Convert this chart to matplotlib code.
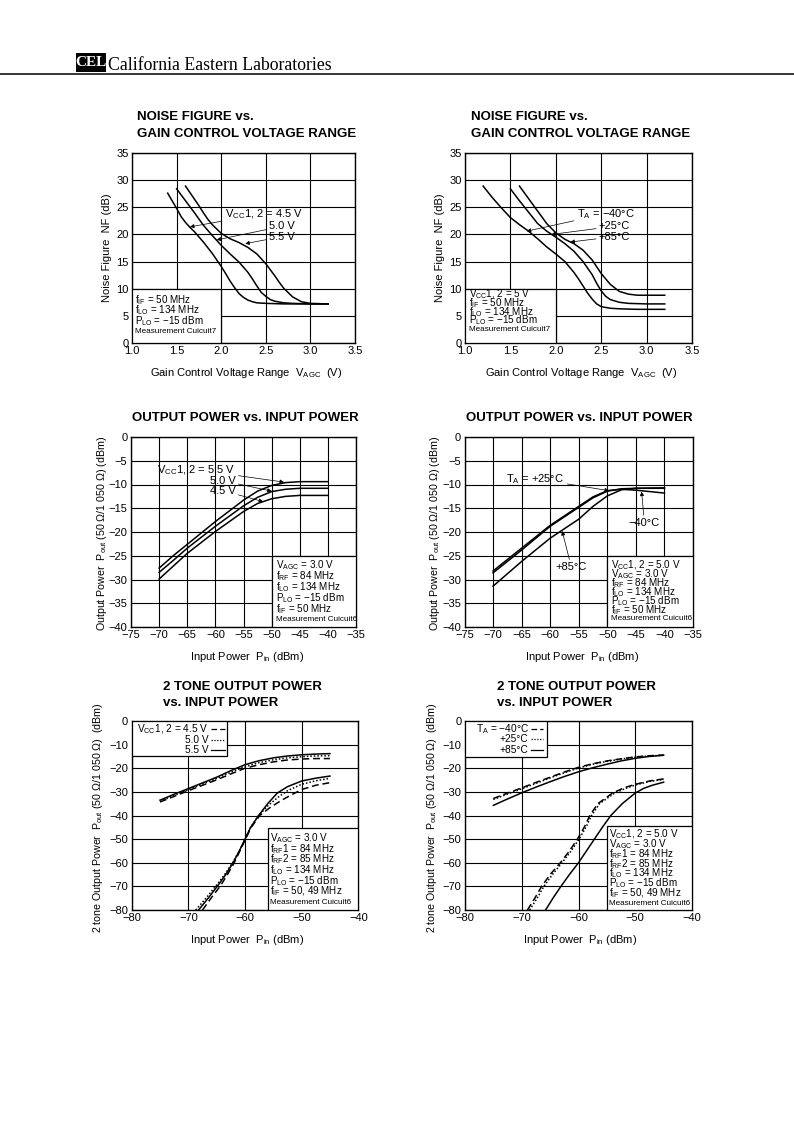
import matplotlib
matplotlib.use("Agg")
import matplotlib.pyplot as plt
from matplotlib.lines import Line2D
from matplotlib.patches import Rectangle
from matplotlib.transforms import offset_copy

W, H = 794, 1123

SANS = "Liberation Sans"
plt.rcParams["font.family"] = [SANS, "DejaVu Sans"]
plt.rcParams["mathtext.fontset"] = "custom"
plt.rcParams["mathtext.rm"] = SANS
plt.rcParams["mathtext.it"] = SANS

# ---- noise figure vs V_AGC, supply voltage ----
nf_v45_x = [1.40, 1.45, 1.50, 1.55, 1.60, 1.65, 1.70, 1.80, 1.90, 2.00, 2.05, 2.10, 2.15,
            2.20, 2.25, 2.30, 2.35, 2.40, 2.50, 2.70, 3.00, 3.20]
nf_v45_y = [27.6, 26.2, 24.8, 23.3, 22.2, 21.3, 20.5, 18.6, 16.5, 14.1, 12.8, 11.4, 10.2,
            9.1, 8.4, 7.9, 7.6, 7.4, 7.3, 7.2, 7.2, 7.2]
nf_v50_x = [1.50, 1.55, 1.60, 1.65, 1.70, 1.80, 1.90, 2.00, 2.10, 2.20, 2.30, 2.35, 2.40,
            2.45, 2.50, 2.55, 2.60, 2.70, 2.80, 3.00, 3.20]
nf_v50_y = [28.4, 27.3, 26.2, 25.1, 24.0, 21.7, 19.8, 18.0, 16.4, 14.9, 13.0, 11.8, 10.5,
            9.3, 8.6, 8.0, 7.7, 7.4, 7.3, 7.2, 7.2]
nf_v55_x = [1.60, 1.65, 1.70, 1.75, 1.80, 1.85, 1.90, 2.00, 2.10, 2.20, 2.30, 2.40, 2.50,
            2.55, 2.60, 2.65, 2.70, 2.80, 2.90, 3.00, 3.20]
nf_v55_y = [28.9, 27.7, 26.5, 25.3, 24.0, 22.8, 21.8, 20.2, 19.2, 18.5, 17.6, 16.4, 14.6,
            13.5, 12.4, 11.2, 10.1, 8.5, 7.6, 7.3, 7.2]

# ---- noise figure vs V_AGC, temperature ----
nf_tm40_x = [1.20, 1.30, 1.40, 1.50, 1.60, 1.70, 1.80, 1.90, 2.00, 2.10, 2.20, 2.25, 2.30,
             2.35, 2.40, 2.45, 2.50, 2.60, 2.70, 2.90, 3.20]
nf_tm40_y = [28.9, 26.8, 24.9, 23.1, 21.8, 20.6, 19.2, 17.7, 16.4, 15.0, 13.0, 11.8, 10.5,
             9.2, 8.1, 7.2, 6.7, 6.4, 6.3, 6.2, 6.2]
nf_t25_x = [1.50, 1.60, 1.70, 1.80, 1.90, 2.00, 2.10, 2.20, 2.30, 2.40, 2.45, 2.50, 2.55,
            2.60, 2.70, 2.80, 3.00, 3.20]
nf_t25_y = [28.4, 26.2, 24.1, 22.0, 20.6, 19.5, 18.3, 16.9, 15.0, 12.6, 11.0, 9.6, 8.6,
            8.0, 7.5, 7.3, 7.2, 7.2]
nf_t85_x = [1.60, 1.70, 1.80, 1.90, 2.00, 2.10, 2.20, 2.30, 2.40, 2.50, 2.60, 2.70, 2.80,
            2.90, 3.00, 3.20]
nf_t85_y = [28.9, 26.6, 24.3, 22.0, 20.3, 19.1, 18.3, 17.1, 15.3, 12.8, 10.8, 9.5, 9.0,
            8.8, 8.8, 8.8]

# ---- output power vs input power ----
pin_x = [-70, -67.5, -65, -60, -55, -52.5, -50, -47.5, -45, -40]
pout_v55 = [-27.6, -25.0, -22.6, -17.8, -13.3, -11.4, -10.2, -9.6, -9.4, -9.4]
pout_v50 = [-28.5, -26.0, -23.4, -18.8, -14.5, -12.7, -11.5, -11.0, -10.8, -10.8]
pout_v45 = [-29.9, -27.2, -24.5, -19.9, -15.7, -14.0, -13.0, -12.5, -12.3, -12.3]
pout_tm40 = [-28.2, -25.8, -23.4, -18.6, -14.6, -12.6, -11.3, -11.0, -11.2, -11.8]
pout_t25 = [-28.6, -26.2, -23.8, -18.8, -14.8, -12.8, -11.4, -10.9, -10.8, -10.7]
pout_t85 = [-31.4, -28.8, -26.2, -21.3, -17.3, -14.6, -12.4, -11.1, -10.8, -10.8]

# ---- 2 tone output power, fundamental (upper curves) ----
fund_x = [-75, -72.5, -70, -67.5, -65, -62.5, -60, -57.5, -55, -52.5, -50, -47.5, -45]
fund_v55 = [-33.5, -31.0, -28.6, -26.2, -23.8, -21.0, -18.5, -16.8, -15.6, -14.8, -14.3, -14.0, -13.8]
fund_v50 = [-34.0, -31.5, -29.0, -26.7, -24.3, -21.7, -19.3, -17.6, -16.4, -15.6, -15.1, -14.8, -14.7]
fund_v45 = [-34.3, -31.9, -29.5, -27.2, -24.9, -22.4, -20.0, -18.5, -17.3, -16.5, -16.1, -15.9, -15.9]
fund_tm40 = [-32.8, -30.5, -28.3, -26.0, -23.8, -21.6, -19.6, -18.1, -16.9, -16.0, -15.2, -14.7, -14.4]
fund_t25 = [-33.2, -30.9, -28.7, -26.4, -24.1, -21.9, -19.9, -18.3, -17.1, -16.1, -15.3, -14.8, -14.5]
fund_t85 = [-35.7, -33.0, -30.4, -28.0, -25.7, -23.5, -21.5, -19.8, -18.3, -16.9, -15.8, -15.0, -14.5]

# ---- 2 tone output power, third-order products (lower curves) ----
im3_v55_x = [-68.2, -66.5, -64.9, -63.4, -62.1, -61.0, -60.0, -59.0, -57.6, -56.0, -54.3, -52.5, -50, -47.5, -45]
im3_v55_y = [-80, -75, -70, -65, -60, -55, -50, -45, -40, -35, -30.5, -27.8, -25.4, -24.2, -23.3]
im3_v50_x = [-68.7, -66.9, -65.2, -63.6, -62.2, -61.0, -60.0, -59.0, -57.6, -55.8, -54.0, -52.5, -50, -47.5, -45]
im3_v50_y = [-80, -75, -70, -65, -60, -55, -50, -45, -40, -35.5, -32.0, -29.5, -26.8, -25.3, -24.3]
im3_v45_x = [-67.5, -66.0, -64.4, -63.1, -61.9, -60.9, -59.9, -58.9, -57.4, -55.5, -53.5, -52.0, -50, -47.5, -45]
im3_v45_y = [-80, -75, -70, -65, -60, -55, -50, -45, -40, -36.5, -33.5, -31.5, -29.0, -27.2, -26.1]
im3_tm40_x = [-69.0, -67.7, -66.5, -65.0, -63.2, -61.6, -60.2, -59.0, -58.0, -56.6, -54.0, -52.0, -50, -47.5, -45]
im3_tm40_y = [-80, -75, -70, -65, -60, -55, -50, -45, -40, -35, -30.5, -28.3, -26.8, -25.4, -24.5]
im3_t25_x = [-68.6, -67.3, -66.1, -64.6, -62.9, -61.3, -59.9, -58.7, -57.7, -56.3, -53.8, -51.8, -50, -47.5, -45]
im3_t25_y = [-80, -75, -70, -65, -60, -55, -50, -45, -40, -35, -30.8, -28.6, -27.1, -25.6, -24.7]
im3_t85_x = [-65.8, -64.5, -63.1, -61.6, -60.0, -58.6, -57.2, -55.8, -54.3, -52.3, -50.0, -48.5, -47, -45]
im3_t85_y = [-80, -75, -70, -65, -60, -55, -50, -45, -40, -35, -30.5, -28.5, -27.2, -25.9]

DASH = (0, (4.5, 2.5))
DOT = (0, (1.0, 1.3))
LW = 1.1

fig = plt.figure(figsize=(W / 100, H / 100), dpi=100)
fig.patch.set_facecolor("white")


def fx(px):
    return px / W


def fy(py):
    return 1 - py / H


def make_axes(left, right, top, bottom):
    ax = fig.add_axes([fx(left), fy(bottom), (right - left) / W, (bottom - top) / H])
    ax.grid(True, color="black", lw=0.8)
    ax.tick_params(length=0, pad=2.5, labelsize=8)
    for s in ax.spines.values():
        s.set_linewidth(1.0)
    return ax


def info_box(ax, x0, y0, x1, y1, tx, ty, lines, step_px):
    ax.add_patch(Rectangle((x0, y0), x1 - x0, y1 - y0, fc="white", ec="black", lw=0.9, zorder=3))
    for i, s in enumerate(lines):
        tr = offset_copy(ax.transData, fig=fig, x=0, y=-i * step_px * 0.72, units="points")
        fs = 5.9 if s.startswith("Measurement") else 7.1
        ax.text(tx, ty, s, transform=tr, ha="left", va="center", fontsize=fs, zorder=5)


def label(ax, s, xy, xytext, ha):
    ax.annotate(s, xy=xy, xytext=xytext, ha=ha, va="center", fontsize=8, zorder=6,
                arrowprops=dict(arrowstyle="-|>", color="black", lw=0.5,
                                mutation_scale=6, shrinkA=0, shrinkB=0))


def legend_box(ax, x0, y0, x1, tx, sx0, sx1, ys, entries):
    ax.add_patch(Rectangle((x0, y0), x1 - x0, 0 - y0, fc="white", ec="black", lw=0.9, zorder=3))
    for y, (s, ls) in zip(ys, entries):
        ax.text(tx, y, s, ha="right", va="center", fontsize=7.3, zorder=5)
        ax.add_line(Line2D([sx0, sx1], [y, y], color="black", lw=0.9, ls=ls, zorder=5))


# ---------------- header ----------------
fig.add_artist(Rectangle((fx(76), fy(72)), 30 / W, 19 / H, transform=fig.transFigure,
                         fc="black", ec="none"))
fig.text(fx(91), fy(62.5), "CEL", color="white", ha="center", va="center",
         family="Liberation Serif", fontsize=11, fontweight="bold")
fig.text(fx(108), fy(69.5), "California Eastern Laboratories", ha="left", va="baseline",
         family="Liberation Serif", fontsize=12.8)
fig.add_artist(Line2D([0, 1], [fy(73.5), fy(73.5)], transform=fig.transFigure,
                      color="black", lw=1.1))

TITLE = dict(fontsize=9.5, fontweight="bold", va="center")

# ---------------- noise figure panels ----------------
nf_panels = [
    (132, 355, 137, [(nf_v45_x, nf_v45_y), (nf_v50_x, nf_v50_y), (nf_v55_x, nf_v55_y)]),
    (465, 692, 471, [(nf_tm40_x, nf_tm40_y), (nf_t25_x, nf_t25_y), (nf_t85_x, nf_t85_y)]),
]
nf_axes = []
for left, right, tleft, curves in nf_panels:
    ax = make_axes(left, right, 153, 343)
    ax.set_xlim(1.0, 3.5)
    ax.set_ylim(0, 35)
    ax.set_xticks([1.0, 1.5, 2.0, 2.5, 3.0, 3.5])
    ax.set_yticks(range(0, 36, 5))
    for xs, ys in curves:
        ax.plot(xs, ys, color="black", lw=LW, zorder=4)
    ax.set_xlabel("Gain Control Voltage Range  V$_{\\rm AGC}$  (V)", fontsize=8)
    ax.set_ylabel("Noise Figure  NF (dB)", fontsize=8)
    ax.xaxis.set_label_coords(0.51, -0.158)
    ax.yaxis.set_label_coords(-0.112, 0.5)
    ax.xaxis.label.set_va("center")
    ax.yaxis.label.set_va("center")
    fig.text(fx(tleft), fy(117), "NOISE FIGURE vs.", ha="left", **TITLE)
    fig.text(fx(tleft), fy(134), "GAIN CONTROL VOLTAGE RANGE", ha="left", **TITLE)
    nf_axes.append(ax)

ax = nf_axes[0]
info_box(ax, 1.0, 0, 2.0, 10, 1.034, 7.9,
         ["f$_{\\rm IF}$ = 50 MHz", "f$_{\\rm LO}$ = 134 MHz", "P$_{\\rm LO}$ = \u221215 dBm",
          "Measurement Cuicuit7"], 10.3)
label(ax, "V$_{\\rm CC}$1, 2 = 4.5 V", (1.65, 21.4), (2.04, 23.8), "left")
label(ax, "5.0 V", (1.95, 19.0), (2.83, 21.5), "right")
label(ax, "5.5 V", (2.27, 18.3), (2.83, 19.6), "right")

ax = nf_axes[1]
info_box(ax, 1.0, 0, 2.0, 10, 1.047, 9.0,
         ["V$_{\\rm CC}$1, 2 = 5 V", "f$_{\\rm IF}$ = 50 MHz", "f$_{\\rm LO}$ = 134 MHz",
          "P$_{\\rm LO}$ = \u221215 dBm", "Measurement Cuicuit7"], 8.8)
label(ax, "T$_{\\rm A}$ = \u221240°C", (1.68, 20.6), (2.23, 23.8), "left")
label(ax, "+25°C", (1.95, 20.0), (2.82, 21.5), "right")
label(ax, "+85°C", (2.16, 18.6), (2.82, 19.6), "right")

# ---------------- output power panels ----------------
op_panels = [
    (131, 356, 132, [pout_v55, pout_v50, pout_v45]),
    (464.5, 693, 466, [pout_tm40, pout_t25, pout_t85]),
]
op_axes = []
for left, right, tleft, curves in op_panels:
    ax = make_axes(left, right, 437, 627)
    ax.set_xlim(-75, -35)
    ax.set_ylim(-40, 0)
    ax.set_xticks(range(-75, -34, 5))
    ax.set_yticks(range(-40, 1, 5))
    for ys in curves:
        ax.plot(pin_x, ys, color="black", lw=LW, zorder=4)
    ax.set_xlabel("Input Power  P$_{\\rm in}$ (dBm)", fontsize=8)
    ax.set_ylabel("Output Power  P$_{\\rm out}$ (50 \u03a9/1 050 \u03a9) (dBm)", fontsize=7.7)
    ax.xaxis.set_label_coords(0.515, -0.158)
    ax.yaxis.set_label_coords(-0.127, 0.495)
    ax.xaxis.label.set_va("center")
    ax.yaxis.label.set_va("center")
    fig.text(fx(tleft), fy(418), "OUTPUT POWER vs. INPUT POWER", ha="left", **TITLE)
    op_axes.append(ax)

ax = op_axes[0]
info_box(ax, -50, -40, -35, -25, -49.2, -26.9,
         ["V$_{\\rm AGC}$ = 3.0 V", "f$_{\\rm RF}$ = 84 MHz", "f$_{\\rm LO}$ = 134 MHz",
          "P$_{\\rm LO}$ = \u221215 dBm", "f$_{\\rm IF}$ = 50 MHz", "Measurement Cuicuit6"], 11)
label(ax, "V$_{\\rm CC}$1, 2 = 5.5 V", (-47.8, -9.5), (-56.4, -6.9), "right")
label(ax, "5.0 V", (-50.0, -11.4), (-56.4, -9.2), "right")
label(ax, "4.5 V", (-51.5, -13.6), (-56.4, -11.3), "right")

ax = op_axes[1]
info_box(ax, -50, -40, -35, -25, -49.4, -26.9,
         ["V$_{\\rm CC}$1, 2 = 5.0 V", "V$_{\\rm AGC}$ = 3.0 V", "f$_{\\rm RF}$ = 84 MHz",
          "f$_{\\rm LO}$ = 134 MHz", "P$_{\\rm LO}$ = \u221215 dBm", "f$_{\\rm IF}$ = 50 MHz",
          "Measurement Cuicuit6"], 9)
label(ax, "T$_{\\rm A}$ = +25°C", (-49.7, -11.3), (-57.5, -8.8), "right")
label(ax, "\u221240°C", (-44.0, -11.5), (-43.5, -18.1), "center")
label(ax, "+85°C", (-57.9, -19.8), (-56.3, -27.4), "center")

# ---------------- 2 tone panels ----------------
tt_panels = [
    (131.7, 358.3, 163,
     [(fund_x, fund_v45, DASH), (fund_x, fund_v50, DOT), (fund_x, fund_v55, "-"),
      (im3_v45_x, im3_v45_y, DASH), (im3_v50_x, im3_v50_y, DOT), (im3_v55_x, im3_v55_y, "-")],
     0.507, -0.149),
    (465, 692, 497,
     [(fund_x, fund_tm40, DASH), (fund_x, fund_t25, DOT), (fund_x, fund_t85, "-"),
      (im3_tm40_x, im3_tm40_y, DASH), (im3_t25_x, im3_t25_y, DOT), (im3_t85_x, im3_t85_y, "-")],
     0.507, -0.145),
]
tt_axes = []
for left, right, tleft, curves, xl, yl in tt_panels:
    ax = make_axes(left, right, 721, 910)
    ax.set_xlim(-80, -40)
    ax.set_ylim(-80, 0)
    ax.set_xticks(range(-80, -39, 10))
    ax.set_yticks(range(-80, 1, 10))
    for xs, ys, ls in curves:
        ax.plot(xs, ys, color="black", lw=LW, ls=ls, zorder=4)
    ax.set_xlabel("Input Power  P$_{\\rm in}$ (dBm)", fontsize=8)
    ax.set_ylabel("2 tone Output Power  P$_{\\rm out}$ (50 \u03a9/1 050 \u03a9)  (dBm)", fontsize=7.7)
    ax.xaxis.set_label_coords(xl, -0.159)
    ax.yaxis.set_label_coords(yl, 0.487)
    ax.xaxis.label.set_va("center")
    ax.yaxis.label.set_va("center")
    fig.text(fx(tleft), fy(687), "2 TONE OUTPUT POWER", ha="left", **TITLE)
    fig.text(fx(tleft), fy(703), "vs. INPUT POWER", ha="left", **TITLE)
    tt_axes.append(ax)

ax = tt_axes[0]
legend_box(ax, -80, -14.8, -63.1, -66.4, -66.0, -63.6, [-3.5, -8.0, -12.4],
           [("V$_{\\rm CC}$1, 2 = 4.5 V", DASH), ("5.0 V", DOT), ("5.5 V", "-")])
info_box(ax, -55.9, -80, -40, -45.5, -55.5, -49.6,
         ["V$_{\\rm AGC}$ = 3.0 V", "f$_{\\rm RF}$1 = 84 MHz", "f$_{\\rm RF}$2 = 85 MHz",
          "f$_{\\rm LO}$ = 134 MHz", "P$_{\\rm LO}$ = \u221215 dBm", "f$_{\\rm IF}$ = 50, 49 MHz",
          "Measurement Cuicuit6"], 10.7)

ax = tt_axes[1]
legend_box(ax, -80, -15.3, -65.5, -68.8, -68.3, -66.2, [-3.5, -7.8, -12.1],
           [("T$_{\\rm A}$ = \u221240°C", DASH), ("+25°C", DOT), ("+85°C", "-")])
info_box(ax, -55.0, -80, -40, -44.5, -54.6, -48.0,
         ["V$_{\\rm CC}$1, 2 = 5.0 V", "V$_{\\rm AGC}$ = 3.0 V", "f$_{\\rm RF}$1 = 84 MHz",
          "f$_{\\rm RF}$2 = 85 MHz", "f$_{\\rm LO}$ = 134 MHz", "P$_{\\rm LO}$ = \u221215 dBm",
          "f$_{\\rm IF}$ = 50, 49 MHz", "Measurement Cuicuit6"], 9.8)

fig.savefig("out.png", dpi=100)
